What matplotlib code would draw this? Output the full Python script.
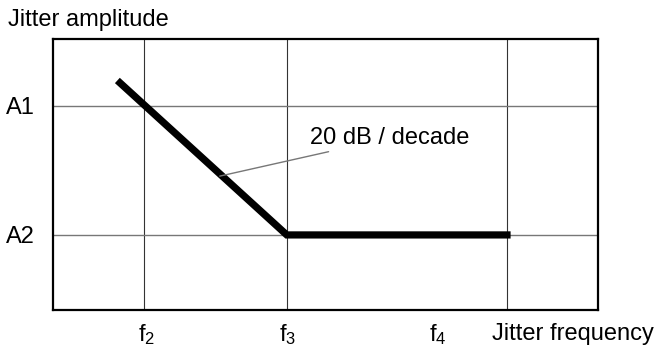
import matplotlib.pyplot as plt

plt.rcParams['font.family'] = ['Liberation Sans', 'DejaVu Sans']
plt.rcParams['mathtext.default'] = 'regular'

# positions in arbitrary axis units (0-100 on both axes)
grid_x = [16.7, 42.9, 83.3]
grid_y = [27.7, 75.3]
amp_labels = ['A2', 'A1']
freq_pos = [17.1, 43.1, 70.6]
freq_labels = ['f$_2$', 'f$_3$', 'f$_4$']

# jitter tolerance mask: slope down to f3, flat until f4
mask_x = [12.3, 42.9, 83.3]
mask_y = [83.8, 27.7, 27.7]

FS = 17
W, H = 656, 353
fig = plt.figure(figsize=(W / 100, H / 100), dpi=100)
ax = fig.add_axes([53 / W, (H - 310) / H, 545 / W, 271 / H])
ax.set_xlim(0, 100)
ax.set_ylim(0, 100)

for x in grid_x:
    ax.axvline(x, color='#333333', lw=0.8, zorder=1)
for y in grid_y:
    ax.axhline(y, color='#777777', lw=1.0, zorder=1)

ax.plot(mask_x, mask_y, color='black', lw=5.2, solid_capstyle='projecting',
        solid_joinstyle='miter', zorder=3)

ax.annotate('20 dB / decade', xy=(30.6, 49.4), xytext=(47.2, 63.5),
            fontsize=FS, va='center', ha='left',
            arrowprops=dict(arrowstyle='-', color='#777777', lw=1.0,
                            shrinkA=0, shrinkB=0))

ax.set_yticks(grid_y)
ax.set_yticklabels(amp_labels, fontsize=FS)
ax.set_xticks(freq_pos)
ax.set_xticklabels(freq_labels, fontsize=FS)
ax.tick_params(axis='both', length=0)
ax.tick_params(axis='y', pad=13)
ax.tick_params(axis='x', pad=9)

for s in ax.spines.values():
    s.set_linewidth(1.6)

fig.text(492 / W, 1 - 334 / H, 'Jitter frequency', fontsize=FS, va='center', ha='left')
fig.text(8 / W, 1 - 20 / H, 'Jitter amplitude', fontsize=FS, va='center', ha='left')

fig.savefig('out.png', dpi=100)
